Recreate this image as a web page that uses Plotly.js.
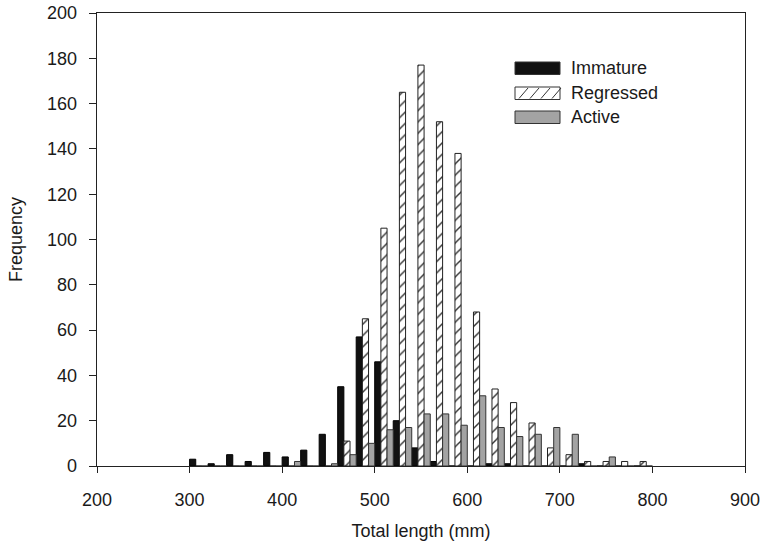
<!DOCTYPE html>
<html>
<head>
<meta charset="utf-8">
<script src="https://cdn.plot.ly/plotly-3.0.1.min.js"></script>
<style>html,body{margin:0;padding:0;background:#fff;}#chart{width:760px;height:547px;}</style>
</head>
<body>
<div id="chart"></div>
<script>
// Bin centres (20 mm bins, 300-320 ... 780-800)
const bins = [310,330,350,370,390,410,430,450,470,490,510,530,550,570,590,610,630,650,670,690,710,730,750,770,790];
const immature  = [3,1,5,2,6,4,7,14,35,57,46,20,8,2,0,0,1,1,0,0,0,1,0,0,0];
const regressed = [0,0,0,0,0,0,0,0,11,65,105,165,177,152,138,68,34,28,19,8,5,2,2,2,2];
const active    = [0,0,0,0,0,2,0,1,5,10,16,17,23,23,18,31,17,13,14,17,14,0,4,0,0];
const seriesNames = ["Immature","Regressed","Active"];
const xTickVals = [200,300,400,500,600,700,800,900];
const yTickVals = [0,20,40,60,80,100,120,140,160,180,200];

const FONT = "Liberation Sans, Arial, Helvetica, sans-serif";
const TXT = "#1a1a1a";
const FS = 18;
const W = 760, H = 547, ML = 97, MR = 15, MT = 13, MB = 81;
const PW = W - ML - MR, PH = H - MT - MB;
const px = v => (v - ML) / PW;          // pixel -> paper x
const py = v => (H - MB - v) / PH;      // pixel -> paper y

const traces = [
  {type:"bar", name:seriesNames[0], x:bins, y:immature,
   marker:{color:"#111111", line:{color:"#000", width:1}}},
  {type:"bar", name:seriesNames[1], x:bins, y:regressed,
   marker:{color:"#ffffff", line:{color:"#222", width:1},
     pattern:{shape:"/", size:8, solidity:0.18, fgcolor:"#333", bgcolor:"#ffffff", fillmode:"replace"}}},
  {type:"bar", name:seriesNames[2], x:bins, y:active,
   marker:{color:"#a3a3a3", line:{color:"#333", width:1}}}
];

// Custom legend (wide swatches like the reference)
const shapes = [];
const annotations = [];
const legX0 = 515, legX1 = 560, rows = [62, 87, 111], rowH = 12.5;
const fills = ["#111111", "#ffffff", "#a3a3a3"];
rows.forEach((top, i) => {
  shapes.push({type:"rect", xref:"paper", yref:"paper",
    x0:px(legX0), x1:px(legX1), y0:py(top+rowH), y1:py(top),
    fillcolor:fills[i], line:{color:"#333", width:1}});
  annotations.push({xref:"paper", yref:"paper", x:px(569), y:py(top+rowH/2),
    xanchor:"left", yanchor:"middle", showarrow:false, text:seriesNames[i],
    font:{family:FONT, size:FS, color:TXT}});
});
// hatch lines inside the "Regressed" swatch
for (let k = 0; k < 4; k++) {
  const bx = legX0 + 4 + k*11;
  shapes.push({type:"line", xref:"paper", yref:"paper",
    x0:px(bx), y0:py(rows[1]+rowH-1), x1:px(bx+9), y1:py(rows[1]+1),
    line:{color:"#333", width:1}});
}

const layout = {
  width:W, height:H,
  margin:{l:ML, r:MR, t:MT, b:MB, pad:0},
  paper_bgcolor:"#fff", plot_bgcolor:"#fff",
  barmode:"group", bargap:0, bargroupgap:0,
  showlegend:false,
  font:{family:FONT, size:FS, color:TXT},
  xaxis:{range:[200,900], tickvals:xTickVals, ticks:"outside", ticklen:6, tickwidth:1, tickcolor:"#222",
    showline:true, linecolor:"#222", linewidth:1.3, mirror:true, showgrid:false, zeroline:false,
    ticklabelstandoff:11, ticklabeloverflow:"allow", tickfont:{family:FONT, size:FS, color:TXT},
    title:{text:"Total length (mm)", standoff:15, font:{family:FONT, size:FS, color:TXT}}},
  yaxis:{range:[0,200], tickvals:yTickVals, ticks:"outside", ticklen:7, tickwidth:1, tickcolor:"#222",
    showline:true, linecolor:"#222", linewidth:1.3, mirror:true, showgrid:false, zeroline:false,
    ticklabelstandoff:8, ticklabeloverflow:"allow", tickfont:{family:FONT, size:FS, color:TXT},
    title:{text:"Frequency", standoff:19, font:{family:FONT, size:FS, color:TXT}}},
  shapes:shapes, annotations:annotations
};

Plotly.newPlot("chart", traces, layout, {displayModeBar:false, staticPlot:true});
</script>
</body>
</html>
